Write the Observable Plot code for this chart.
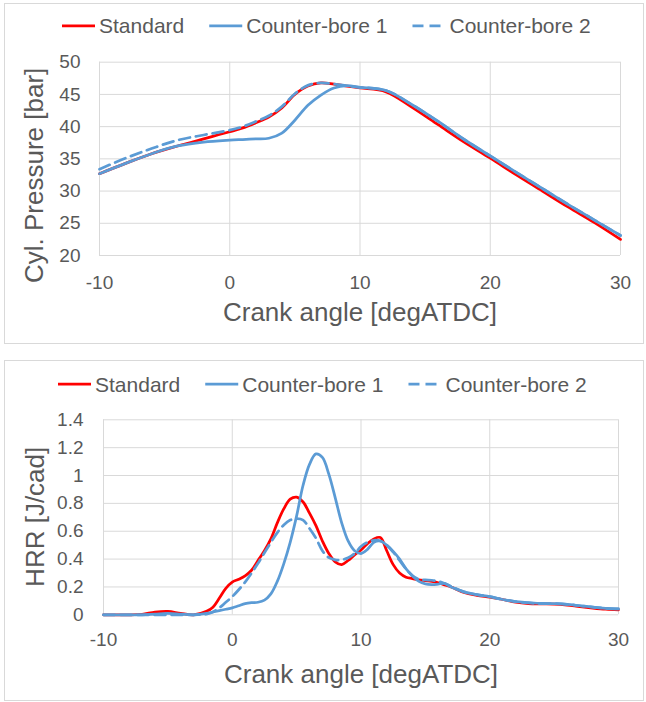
<!DOCTYPE html>
<html><head><meta charset="utf-8">
<script src="https://cdn.jsdelivr.net/npm/d3@7"></script>
<script src="https://cdn.jsdelivr.net/npm/@observablehq/plot@0.6"></script>
<style>
body{margin:0;background:#fff;width:646px;height:702px;position:relative;overflow:hidden;font-family:"Liberation Sans",Arial,sans-serif;}
.panel{position:absolute;border:1px solid #d9d9d9;box-sizing:border-box;}
.abs{position:absolute;}
</style></head><body>
<div class="panel" style="left:4px;top:3px;width:640px;height:341px"></div>
<div class="panel" style="left:4px;top:360px;width:640px;height:341px"></div>
<div id="leg1" class="abs" style="left:0;top:0"></div>
<div id="chart1" class="abs" style="left:5px;top:45px"></div>
<div id="leg2" class="abs" style="left:0;top:355px"></div>
<div id="chart2" class="abs" style="left:5px;top:403px"></div>
<script>
// ---- data ----
const seriesNames = ["Standard", "Counter-bore 1", "Counter-bore 2"];
const xTicks = [-10, 0, 10, 20, 30];
const pTicks = [20, 25, 30, 35, 40, 45, 50];
const hTicks = [0, 0.2, 0.4, 0.6, 0.8, 1, 1.2, 1.4];
const xTitle = "Crank angle [degATDC]";
const pTitle = "Cyl. Pressure [bar]";
const hTitle = "HRR [J/cad]";

const pAngle = [-10,-8,-6,-4,-2,0,1,2,3,4,5,6,7,8,9,10,12,14,16,18,20,22,24,26,28,30];
const pStd = [32.7,34.3,35.8,37.0,38.1,39.2,39.8,40.6,41.5,42.9,45.0,46.3,46.8,46.6,46.3,46.0,45.4,43.0,40.3,37.6,35.1,32.5,30.0,27.5,25.1,22.5];
const pCb1 = [32.7,34.3,35.8,37.0,37.6,37.9,38.0,38.1,38.2,39.0,41.0,43.3,44.9,46.0,46.35,46.1,45.6,43.4,40.8,38.0,35.45,32.9,30.4,27.9,25.5,23.1];
const pCb2 = [33.4,35.1,36.6,37.9,38.7,39.45,40.0,40.8,41.7,43.1,45.1,46.4,46.8,46.6,46.35,46.1,45.6,43.4,40.8,38.0,35.45,32.9,30.4,27.9,25.5,23.1];

const hAngle = [-10,-9,-8,-7,-6,-5,-4,-3,-2,-1.5,-1,-0.5,0,0.5,1,1.5,2,2.5,3,3.5,4,4.5,5,5.5,6,6.5,7,7.5,8,8.5,9,9.5,10,10.5,11,11.5,12,12.5,13,13.5,14,14.5,15,15.5,16,16.5,17,18,19,20,21,22,23,24,25,26,27,28,29,30];
const hStd = [0,0,0,0.004,0.02,0.025,0.01,0,0.025,
  0.055,0.12,0.19,0.235,0.255,0.28,0.32,0.39,0.46,0.545,0.66,0.76,0.83,0.845,0.81,0.73,0.64,0.53,0.44,0.38,0.36,0.39,0.43,0.465,0.51,0.545,0.555,0.46,0.36,0.3,0.27,0.26,0.25,0.245,0.24,0.23,0.215,0.2,
  0.16,0.14,0.126,0.11,0.09,0.08,0.078,0.077,0.07,0.058,0.048,0.04,0.036];
const hCb1 = [0,0,0,0,0.005,0.01,0.005,0,0.01,
  0.02,0.03,0.04,0.05,0.065,0.08,0.087,0.09,0.105,0.15,0.24,0.366,0.52,0.71,0.93,1.08,1.155,1.13,1.01,0.84,0.66,0.53,0.46,0.44,0.47,0.52,0.53,0.5,0.455,0.4,0.33,0.28,0.24,0.222,0.217,0.22,0.225,0.2,
  0.165,0.145,0.13,0.11,0.095,0.088,0.082,0.08,0.075,0.065,0.055,0.047,0.042];
const hCb2 = [0,0,0,0,0,0,0,0,0.005,
  0.02,0.05,0.09,0.13,0.18,0.235,0.3,0.37,0.445,0.52,0.59,0.645,0.68,0.69,0.68,0.62,0.55,0.46,0.41,0.395,0.395,0.41,0.44,0.49,0.52,0.535,0.53,0.5,0.45,0.39,0.33,0.28,0.255,0.25,0.248,0.24,0.225,0.205,
  0.165,0.145,0.13,0.11,0.095,0.085,0.08,0.08,0.075,0.065,0.055,0.047,0.042];

// ---- styles ----
const FONT = '"Liberation Sans", Arial, sans-serif';
const TEXT = "#595959";
const GRID = "#d9d9d9";
const colors = ["#ff0000", "#5b9bd5", "#5b9bd5"];
const dashes = [null, null, "11,6"];

function rows(angles, values) { return angles.map((a, i) => ({a, v: values[i]})); }

function legend(el, y, startX) {
  const svg = d3.select(el).append("svg").attr("width", 646).attr("height", 45)
    .style("font-family", FONT).style("overflow", "visible");
  let x = startX;
  seriesNames.forEach((name, i) => {
    svg.append("line").attr("x1", x).attr("x2", x + 33).attr("y1", y).attr("y2", y)
      .attr("stroke", colors[i]).attr("stroke-width", 2.75)
      .attr("stroke-dasharray", dashes[i]);
    const t = svg.append("text").attr("x", x + 37).attr("y", y + 7.5)
      .attr("fill", TEXT).attr("font-size", 21).text(name);
    x += 37 + t.node().getComputedTextLength() + 25;
  });
}

function chart(opts) {
  const series = [opts.s0, opts.s1, opts.s2];
  const svg = Plot.plot({
    width: 636, height: opts.height,
    marginLeft: opts.ml, marginRight: opts.mr, marginTop: opts.mt, marginBottom: opts.mb,
    style: {fontFamily: FONT, fontSize: "19px", color: TEXT, background: "transparent", overflow: "visible"},
    x: {domain: [-10, 30]},
    y: {domain: opts.ydomain},
    marks: [
      Plot.gridX(xTicks, {stroke: GRID, strokeOpacity: 1, strokeWidth: 1}),
      Plot.gridY(opts.yticks, {stroke: GRID, strokeOpacity: 1, strokeWidth: 1}),
      ...series.map((s, i) => Plot.line(rows(opts.angles, s), {
        x: "a", y: "v", stroke: colors[i], strokeWidth: 2.75,
        strokeDasharray: dashes[i], curve: "catmull-rom"
      })),
      Plot.axisX({ticks: xTicks, tickSize: 0, tickPadding: opts.xpad, fontSize: 19, label: null, tickFormat: d => String(d)}),
      Plot.axisY({ticks: opts.yticks, tickSize: 0, tickPadding: opts.ypad, fontSize: 19, label: null, tickFormat: d => String(d)}),
      Plot.text([xTitle], {text: d => d, frameAnchor: "bottom", lineAnchor: "middle", textAnchor: "middle", dy: opts.xtdy, fontSize: 26, fill: TEXT})
    ]
  });
  // rotated y-axis title
  const cy = (opts.mt + (opts.height - opts.mb)) / 2 + opts.ytdy;
  d3.select(svg).append("text")
    .attr("transform", `translate(${opts.ytx},${cy}) rotate(-90)`)
    .attr("text-anchor", "middle").attr("dy", "0.32em")
    .attr("fill", TEXT).attr("font-size", 26).attr("font-family", FONT)
    .text(opts.ytitle);
  return svg;
}

legend(document.getElementById("leg1"), 25.8, 62);
legend(document.getElementById("leg2"), 29, 58);

document.getElementById("chart1").append(chart({
  height: 298, ml: 94, mr: 21, mt: 16.7, mb: 88,
  ydomain: [20, 50], yticks: pTicks, angles: pAngle, s0: pStd, s1: pCb1, s2: pCb2,
  xpad: 20, ypad: 19, xtdy: 56.7, ytitle: pTitle, ytx: 30, ytdy: 17
}));
document.getElementById("chart2").append(chart({
  height: 297, ml: 98, mr: 23, mt: 16.3, mb: 85.7,
  ydomain: [0, 1.4], yticks: hTicks, angles: hAngle, s0: hStd, s1: hCb1, s2: hCb2,
  xpad: 18, ypad: 20, xtdy: 59.4, ytitle: hTitle, ytx: 31, ytdy: 0
}));
</script>
</body></html>
